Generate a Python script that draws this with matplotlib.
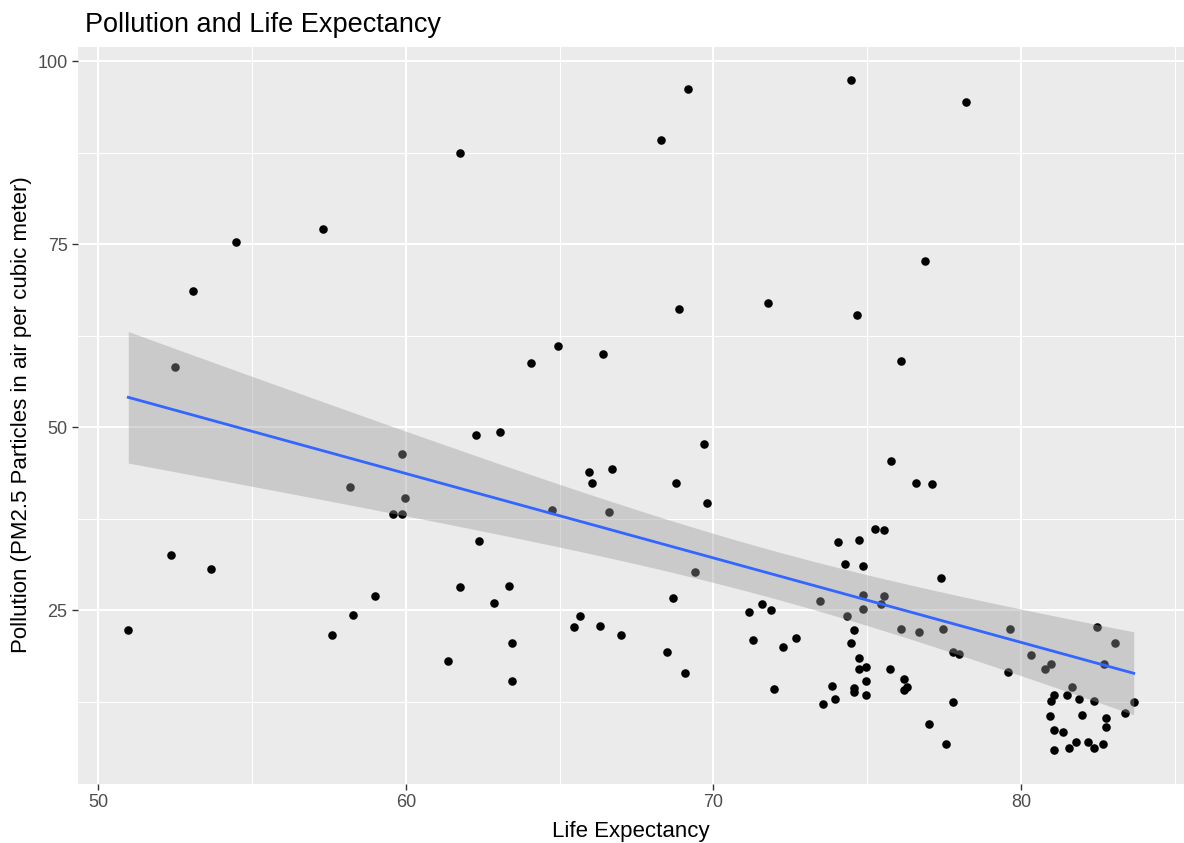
import matplotlib
matplotlib.use("Agg")
import matplotlib.pyplot as plt
from matplotlib.ticker import MultipleLocator
import numpy as np

plt.rcParams['font.family'] = ['Liberation Sans', 'DejaVu Sans']

# life expectancy (x) and PM2.5 pollution (y)
life_exp = [
    50.97, 52.37, 52.48, 53.07, 53.66, 54.47, 57.30, 57.60, 58.19, 58.29,
    58.98, 59.58, 59.88, 59.88, 59.98, 61.37, 61.76, 61.77, 62.27, 62.37,
    62.86, 63.07, 63.36, 63.46, 63.46, 64.06, 64.76, 64.96, 65.46, 65.65,
    65.94, 66.05, 66.30, 66.40, 66.59, 66.70, 67.00, 68.29, 68.49, 68.68,
    68.79, 68.89, 69.09, 69.19, 69.39, 69.68, 69.78, 71.17, 71.28, 71.58,
    71.77, 71.88, 71.97, 72.27, 72.67, 73.47, 73.56, 73.85, 73.96, 74.06,
    74.27, 74.36, 74.46, 74.46, 74.56, 74.56, 74.56, 74.66, 74.75, 74.75,
    74.75, 74.85, 74.86, 74.86, 74.97, 74.97, 74.97, 75.26, 75.45, 75.56,
    75.56, 75.75, 75.76, 76.09, 76.10, 76.19, 76.20, 76.30, 76.59, 76.70,
    76.89, 77.00, 77.10, 77.39, 77.48, 77.56, 77.80, 77.80, 77.98, 78.20,
    79.58, 79.64, 80.33, 80.77, 80.94, 80.98, 80.99, 81.08, 81.08, 81.08,
    81.37, 81.49, 81.58, 81.67, 81.78, 81.88, 81.98, 82.17, 82.38, 82.38,
    82.47, 82.68, 82.69, 82.78, 82.78, 83.07, 83.37, 83.67,
]
pollution = [
    22.27, 32.57, 58.20, 68.67, 30.66, 75.37, 77.05, 21.64, 41.80, 24.40,
    26.90, 38.20, 38.20, 46.40, 40.30, 18.09, 28.14, 87.40, 48.96, 34.43,
    26.05, 49.37, 28.37, 20.59, 15.30, 58.84, 38.72, 61.12, 22.68, 24.18,
    43.91, 42.45, 22.91, 60.07, 38.50, 44.32, 21.64, 89.26, 19.32, 26.69,
    42.45, 66.17, 16.39, 96.18, 30.24, 47.68, 39.70, 24.78, 21.00, 25.87,
    67.00, 25.05, 14.30, 20.00, 21.23, 26.30, 12.21, 14.71, 12.84, 34.29,
    31.34, 24.18, 97.40, 20.59, 22.27, 14.35, 13.86, 65.30, 34.66, 18.50,
    17.00, 31.10, 27.15, 25.23, 17.27, 15.36, 13.45, 36.16, 25.82, 35.93,
    26.91, 17.04, 45.36, 59.00, 22.50, 15.57, 14.07, 14.54, 42.40, 22.05,
    72.68, 9.48, 42.21, 29.43, 22.50, 6.75, 19.32, 12.43, 19.09, 94.45,
    16.58, 22.50, 18.91, 17.04, 10.52, 12.66, 17.68, 13.48, 8.66, 5.93,
    8.43, 13.45, 6.15, 14.48, 6.97, 12.84, 10.71, 6.97, 12.66, 6.15,
    22.73, 6.75, 17.68, 10.34, 9.07, 20.59, 10.93, 12.43,
]

x = np.array(life_exp)
y = np.array(pollution)

# linear fit with 95% confidence band (like geom_smooth(method="lm"))
n = len(x)
slope, intercept = np.polyfit(x, y, 1)
resid = y - (intercept + slope * x)
s = np.sqrt(np.sum(resid ** 2) / (n - 2))
xg = np.linspace(x.min(), x.max(), 80)
yg = intercept + slope * xg
se = s * np.sqrt(1 / n + (xg - x.mean()) ** 2 / np.sum((x - x.mean()) ** 2))
tval = 1.977
lo, hi = yg - tval * se, yg + tval * se

fig = plt.figure(figsize=(11.84, 8.43), dpi=100)
ax = fig.add_axes([78 / 1184, 1 - 783.5 / 843, 1 - 78 / 1184, (783.5 - 46.7) / 843])
ax.set_facecolor("#EBEBEB")
for sp in ax.spines.values():
    sp.set_visible(False)

xr = x.max() - x.min()
yr = y.max() - y.min()
ax.set_xlim(x.min() - 0.05 * xr, x.max() + 0.05 * xr)
ax.set_ylim(y.min() - 0.05 * yr, y.max() + 0.05 * yr)

ax.xaxis.set_major_locator(MultipleLocator(10))
ax.xaxis.set_minor_locator(MultipleLocator(5))
ax.yaxis.set_major_locator(MultipleLocator(25))
ax.yaxis.set_minor_locator(MultipleLocator(12.5))
ax.grid(which="major", color="white", lw=1.5)
ax.grid(which="minor", color="white", lw=0.75)
ax.set_axisbelow(True)
ax.tick_params(which="major", length=4, width=1, color="#333333",
               labelcolor="#4D4D4D", labelsize=13)
ax.tick_params(which="minor", length=0)

ax.scatter(x, y, s=38, color="black", linewidths=0, zorder=2)
ax.fill_between(xg, lo, hi, color="#999999", alpha=0.4, linewidth=0, zorder=3)
ax.plot(xg, yg, color="#3366FF", lw=2.0, zorder=4)

ax.set_xlabel("Life Expectancy", fontsize=16, labelpad=7)
ax.set_ylabel("Pollution (PM2.5 Particles in air per cubic meter)", fontsize=16, labelpad=4)
fig.text(85 / 1184, 1 - 32 / 843, "Pollution and Life Expectancy", fontsize=19.5,
         ha="left", va="baseline")

fig.savefig("out.png", dpi=100)
